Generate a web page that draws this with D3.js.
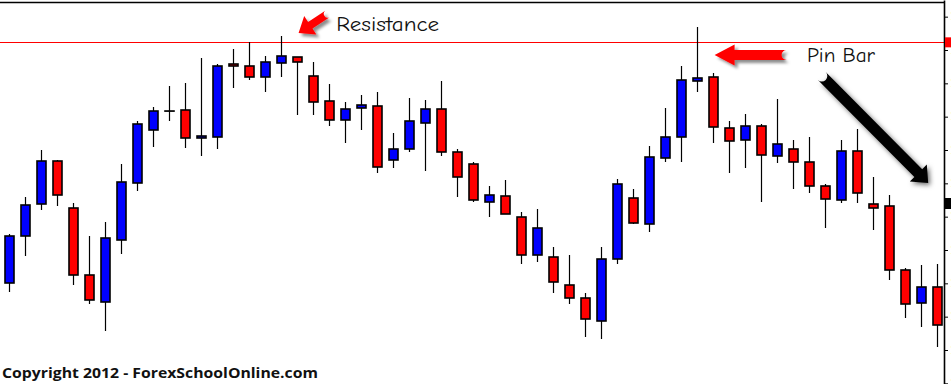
<!DOCTYPE html>
<html>
<head>
<meta charset="utf-8">
<script src="https://cdn.jsdelivr.net/npm/d3@7"></script>
<style>
    body { margin: 0; background: #fff; }
    #chart { display: block; }
</style>
</head>
<body>
<svg id="chart" width="951" height="384"></svg>
<script>
    // daily candles (5 digit quotes)
    const opens = [1.30005,1.30710,1.31190,1.31835,1.31130,1.30125,1.29720,1.30650,1.31505,1.32300,
        1.32585,1.32600,1.32180,1.32195,1.33290,1.33260,1.33095,1.33305,1.33395,1.33110,
        1.32735,1.32450,1.32630,1.32660,1.31850,1.32015,1.32405,1.32615,1.31970,1.31790,
        1.31220,1.31310,1.30995,1.30425,1.30395,1.29975,1.29780,1.29435,1.30365,1.31280,
        1.30890,1.31880,1.32195,1.33035,1.33095,1.32330,1.32150,1.32360,1.31910,1.32015,
        1.31820,1.31460,1.31250,1.31985,1.31190,1.31160,1.30200,1.29705,1.29945];
    const highs = [1.30740,1.31295,1.32000,1.31850,1.31205,1.30710,1.30920,1.31790,1.32435,1.32645,
        1.32960,1.33005,1.33380,1.33290,1.33515,1.33620,1.33410,1.33710,1.33395,1.33320,
        1.32990,1.32720,1.32825,1.32870,1.32255,1.32780,1.32750,1.33035,1.32015,1.31820,
        1.31460,1.31550,1.31070,1.31115,1.30545,1.30425,1.29855,1.30545,1.31565,1.31415,
        1.32060,1.32630,1.33260,1.33845,1.33155,1.32435,1.32540,1.32390,1.32765,1.32150,
        1.32195,1.31490,1.32150,1.32315,1.31595,1.31325,1.30230,1.30275,1.30290];
    const lows = [1.29870,1.30410,1.31100,1.31160,1.29975,1.29690,1.29285,1.30440,1.31385,1.32045,
        1.32435,1.32030,1.31910,1.32015,1.32930,1.33050,1.32870,1.33095,1.32525,1.32525,
        1.32360,1.32105,1.32300,1.31655,1.31730,1.31970,1.31685,1.31910,1.31295,1.31220,
        1.30995,1.31040,1.30290,1.30320,1.29855,1.29690,1.29195,1.29165,1.30290,1.30890,
        1.30770,1.31820,1.31820,1.32870,1.32105,1.31655,1.31730,1.31220,1.31805,1.31415,
        1.31355,1.30830,1.31205,1.31205,1.30800,1.30050,1.29480,1.29345,1.29045];
    const closes = [1.30710,1.31175,1.31835,1.31325,1.30125,1.29750,1.30680,1.31520,1.32390,1.32585,
        1.32585,1.32180,1.32210,1.33260,1.33260,1.33095,1.33320,1.33410,1.33320,1.32720,
        1.32450,1.32615,1.32675,1.31745,1.32015,1.32435,1.32615,1.31970,1.31595,1.31250,
        1.31325,1.31040,1.30425,1.30830,1.30020,1.29780,1.29465,1.30365,1.31490,1.30905,
        1.31895,1.32195,1.33050,1.33080,1.32345,1.32135,1.32360,1.31925,1.32090,1.31820,
        1.31460,1.31265,1.31985,1.31355,1.31130,1.30200,1.29690,1.29945,1.29375];

    const priceTicks = [1.3400,1.3350,1.3300,1.3250,1.3200,1.3150,1.3100,1.3050,1.3000,1.2950,1.2900,1.2850];
    const resistance = 1.33615;
    const lastPrice = 1.31205;

    const W = 951, H = 384, axisX = 944;
    const svg = d3.select("#chart");

    let x = d3.scaleLinear().domain([0, opens.length - 1]).range([9, 937]);
    let y = d3.scaleLinear().domain([1.34250, 1.28490]).range([0, H]);

    let defs = svg.append("defs");
    defs.append("filter").attr("id", "shadow").attr("x", "-30%").attr("y", "-30%").attr("width", "160%").attr("height", "160%")
        .append("feDropShadow").attr("dx", 3).attr("dy", 3).attr("stdDeviation", 1.6)
        .attr("flood-color", "#000").attr("flood-opacity", 0.45);
    defs.append("filter").attr("id", "blur").attr("x", "-30%").attr("y", "-30%").attr("width", "160%").attr("height", "160%")
        .append("feDropShadow").attr("dx", 2).attr("dy", 2).attr("stdDeviation", 2.5)
        .attr("flood-color", "#000").attr("flood-opacity", 0.6);

    // frame
    svg.append("line").attr("x1", 0).attr("x2", axisX).attr("y1", 2.5).attr("y2", 2.5)
        .attr("stroke", "#000").attr("stroke-width", 1.5);

    // resistance line
    svg.append("line").attr("x1", 0).attr("x2", axisX)
        .attr("y1", Math.round(y(resistance)) + 0.5).attr("y2", Math.round(y(resistance)) + 0.5)
        .attr("stroke", "#ff0000").attr("stroke-width", 1.2);

    // candles
    let candles = svg.append("g").selectAll("g").data(opens).join("g")
        .attr("transform", (d, i) => `translate(${Math.round(x(i)) + 0.5},0)`);

    candles.append("line")
        .attr("y1", (d, i) => y(highs[i])).attr("y2", (d, i) => y(lows[i]))
        .attr("stroke", "#000").attr("stroke-width", 1.2);

    candles.append("rect")
        .attr("x", -4.5).attr("width", 9)
        .attr("y", (d, i) => y(Math.max(opens[i], closes[i])))
        .attr("height", (d, i) => Math.max(0.1, Math.abs(y(opens[i]) - y(closes[i]))))
        .attr("fill", (d, i) => closes[i] > opens[i] ? "#0000ff" : closes[i] < opens[i] ? "#ff0000" : "#000")
        .attr("stroke", "#000").attr("stroke-width", 1.6);

    // right price axis
    let axis = svg.append("g").attr("transform", `translate(${axisX},0)`)
        .call(d3.axisRight(y).tickValues(priceTicks).tickSize(4).tickSizeOuter(0).tickPadding(2).tickFormat(d3.format(".4f")));
    axis.select(".domain").attr("stroke", "#000").attr("stroke-width", 1.6);
    axis.selectAll(".tick line").attr("stroke", "#000");
    axis.selectAll(".tick text").attr("fill", "#e8e85a").attr("font-size", 10).attr("font-family", "DejaVu Sans");

    svg.append("rect").attr("x", axisX + 1).attr("width", 6).attr("y", y(resistance) - 5).attr("height", 10).attr("fill", "#ff0000");
    svg.append("rect").attr("x", axisX + 1).attr("width", 6).attr("y", y(lastPrice) - 5).attr("height", 11).attr("fill", "#000");

    // annotations (positioned in candle index / price)
    function arrowPath(x1, y1, x2, y2, sw, hl, hw) {
        let dx = x2 - x1, dy = y2 - y1, len = Math.hypot(dx, dy);
        let ux = dx / len, uy = dy / len, nx = -uy, ny = ux;
        let bx = x2 - ux * hl, by = y2 - uy * hl;
        let p = (px, py) => `${px.toFixed(1)},${py.toFixed(1)}`;
        return `M${p(x1 + nx * sw / 2, y1 + ny * sw / 2)}` +
            `L${p(bx + nx * sw / 2, by + ny * sw / 2)}L${p(bx + nx * hw / 2, by + ny * hw / 2)}` +
            `L${p(x2, y2)}L${p(bx - nx * hw / 2, by - ny * hw / 2)}L${p(bx - nx * sw / 2, by - ny * sw / 2)}` +
            `L${p(x1 - nx * sw / 2, y1 - ny * sw / 2)}A${sw / 2},${sw / 2} 0 0 1 ${p(x1 + nx * sw / 2, y1 + ny * sw / 2)}Z`;
    }

    svg.append("path").attr("d", arrowPath(x(19.9), y(1.34040), x(18.1), y(1.33755), 8, 14, 22))
        .attr("fill", "#ff0000").attr("filter", "url(#shadow)");
    svg.append("path").attr("d", arrowPath(x(48.6), y(1.33425), x(44.1), y(1.33425), 10, 20, 21))
        .attr("fill", "#ff0000").attr("filter", "url(#shadow)");
    svg.append("path").attr("d", arrowPath(x(50.8), y(1.33110), x(57.45), y(1.31505), 11, 14, 24))
        .attr("fill", "#000").attr("filter", "url(#blur)");

    const labelFont = "'Comic Sans MS', 'Comic Neue', 'DejaVu Sans', sans-serif";
    svg.append("text").attr("x", x(20.45)).attr("y", y(1.33785))
        .attr("font-family", labelFont).attr("font-size", 20).attr("fill", "#111")
        .attr("textLength", 103).attr("lengthAdjust", "spacingAndGlyphs").text("Resistance");
    svg.append("text").attr("x", x(49.875)).attr("y", y(1.33320))
        .attr("font-family", labelFont).attr("font-size", 20).attr("fill", "#111")
        .attr("textLength", 68).attr("lengthAdjust", "spacingAndGlyphs").text("Pin Bar");

    svg.append("text").attr("x", 2).attr("y", 378)
        .attr("font-family", "'Open Sans', 'Noto Sans', sans-serif").attr("font-weight", "bold")
        .attr("font-size", 15).attr("fill", "#111")
        .attr("textLength", 316).attr("lengthAdjust", "spacingAndGlyphs")
        .text("Copyright 2012 - ForexSchoolOnline.com");
</script>
</body>
</html>
